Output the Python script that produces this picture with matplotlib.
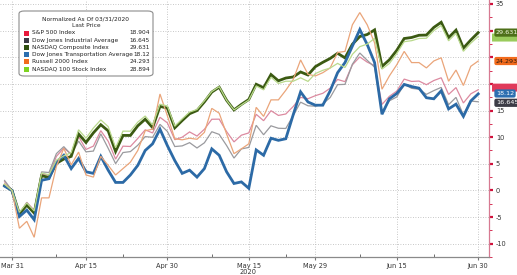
import numpy as np
import pandas as pd
import matplotlib
matplotlib.use("Agg")
import matplotlib.pyplot as plt
import matplotlib.transforms as mtransforms
from matplotlib.patches import FancyBboxPatch, Rectangle

# ---------------- data ----------------
holidays = ["2020-04-10", "2020-05-25"]
dates = [d for d in pd.bdate_range("2020-03-30", "2020-06-30") if d.strftime("%Y-%m-%d") not in holidays]

tick_dates = ["2020-03-31", "2020-04-15", "2020-04-30", "2020-05-15", "2020-05-29", "2020-06-15", "2020-06-30"]
tick_labels = ["Mar 31", "Apr 15", "Apr 30", "May 15", "May 29", "Jun 15", "Jun 30"]
minor_dates = ["2020-04-08", "2020-04-22", "2020-05-08", "2020-05-22", "2020-06-08", "2020-06-22"]
y_ticks = [-10, -5, 0, 5, 10, 15, 20, 25, 30, 35]
y_tick_labels = ["-10", "-5", "0", "5", "10", "15", "", "", "", "35"]  # 20/25/30 hidden under tags

names = ["S&P 500 Index", "Dow Jones Industrial Average", "NASDAQ Composite Index",
         "Dow Jones Transportation Average", "Russell 2000 Index", "NASDAQ 100 Stock Index"]
last_values = ["18.904", "16.645", "29.631", "18.12", "24.293", "28.894"]

spx = [1.63, 0, -4.41, -2.23, -3.71, 3.06, 2.89, 6.39, 7.94, 6.85, 10.12, 7.69, 8.32, 11.22, 9.23,
       5.88, 8.31, 8.25, 9.76, 11.37, 10.79, 13.73, 12.68, 9.52, 9.99, 10.98, 10.21, 11.48, 13.36,
       13.38, 11.05, 9.11, 10.37, 10.80, 14.29, 13.09, 14.97, 14.08, 14.35, 15.75, 17.47, 17.22,
       17.79, 18.23, 19.20, 20.83, 20.42, 23.58, 25.06, 24.09, 23.43, 16.15, 17.67, 18.65, 20.90,
       20.46, 20.53, 19.85, 20.63, 21.15, 18.02, 19.31, 16.42, 18.13, 18.904]
indu = [1.87, 0, -4.44, -2.30, -3.95, 3.48, 3.36, 6.91, 8.22, 6.72, 9.27, 7.24, 7.39, 10.61, 7.91,
        5.03, 7.11, 7.29, 8.48, 10.11, 9.97, 12.40, 11.08, 8.24, 8.36, 8.97, 7.97, 8.94, 11.02,
        10.52, 8.43, 6.07, 7.79, 8.07, 12.23, 10.45, 12.13, 11.67, 11.63, 14.04, 16.57, 15.89,
        15.81, 16.23, 17.45, 19.86, 19.91, 23.70, 25.80, 24.43, 23.14, 14.65, 16.83, 17.55, 19.95,
        19.17, 18.99, 18.04, 18.74, 19.34, 16.10, 17.47, 14.14, 16.78, 16.645]
ccmp = [0.9, 0, -4.41, -2.76, -4.25, 2.77, 2.43, 5.08, 5.89, 6.39, 10.59, 9.0, 10.81, 12.34, 11.18,
        7.31, 10.33, 10.32, 12.13, 13.37, 11.79, 15.78, 15.45, 11.75, 13.12, 14.40, 14.99, 16.62,
        18.46, 19.38, 16.92, 15.11, 16.15, 17.07, 19.93, 19.28, 21.76, 20.58, 21.10, 21.30, 22.24,
        21.67, 23.24, 24.05, 24.78, 25.75, 24.88, 27.45, 28.89, 29.27, 30.14, 23.28, 24.53, 26.31,
        28.52, 28.71, 29.13, 29.17, 30.60, 31.57, 28.69, 30.09, 26.72, 28.24, 29.631]
tran = [0.8, 0, -4.9, -3.7, -5.5, 1.9, 2.2, 5.3, 6.6, 4.1, 6.0, 3.5, 3.2, 6.4, 3.8, 1.5, 1.5, 2.9,
        4.7, 7.5, 8.75, 11.5, 8.4, 5.6, 3.2, 3.8, 2.5, 4.1, 7.8, 6.6, 3.5, 1.3, 1.6, 0.4, 7.6, 6.6,
        9.8, 9.4, 9.7, 14.2, 18.5, 16.6, 16.0, 16.0, 18.7, 22.1, 24.0, 27.1, 30.2, 27.4, 24.0, 14.3,
        17.2, 18.2, 19.9, 19.5, 19.2, 17.4, 17.2, 18.7, 15.3, 16.2, 13.9, 16.8, 18.12]
rty = [1.2, 0, -7.1, -5.8, -8.8, -1.4, -1.4, 4.5, 7.9, 4.8, 7.2, 2.9, 2.5, 6.4, 4.7, 2.9, 4.1, 5.3,
       7.5, 11.2, 11.5, 18.1, 14.0, 9.7, 9.5, 9.8, 9.6, 10.9, 15.4, 14.5, 10.6, 6.9, 7.8, 8.75, 15.6,
       13.9, 17.0, 17.0, 18.8, 20.8, 24.5, 21.8, 21.5, 22.1, 23.0, 25.9, 26.1, 31.1, 33.4, 31.1, 27.7,
       19.0, 21.5, 23.6, 26.1, 24.0, 24.0, 23.0, 24.3, 24.9, 20.5, 22.6, 19.7, 23.3, 24.293]
ndx = [1.2, 0, -4.11, -2.36, -3.85, 3.27, 2.93, 5.68, 6.49, 7.09, 11.39, 9.8, 11.71, 13.24, 11.98,
       8.01, 11.13, 11.12, 12.83, 13.97, 12.29, 16.18, 15.85, 12.05, 13.42, 14.70, 15.19, 16.82,
       18.56, 19.48, 16.92, 15.11, 16.05, 16.97, 19.63, 18.88, 21.26, 20.08, 20.50, 20.50, 21.14,
       20.47, 21.94, 22.55, 22.98, 23.85, 23.08, 25.55, 26.99, 27.47, 28.54, 22.78, 23.83, 25.71,
       27.92, 28.11, 28.53, 28.57, 30.00, 30.97, 28.09, 29.49, 26.12, 27.64, 28.894]

# ---------------- styling ----------------
W, H = 517, 275
fig = plt.figure(figsize=(W / 100, H / 100), dpi=100)
plt.rcParams['font.family'] = ['DejaVu Sans']

ax = fig.add_axes([0, 18 / H, 489 / W, 257 / H])
x = np.arange(len(dates))
date_str = [d.strftime("%Y-%m-%d") for d in dates]
pos = {s: i for i, s in enumerate(date_str)}

line_colors = ['#dc8aa0', '#9a9a9e', '#3b5a12', '#2c6aa6', '#eaa57a', '#b9d98c']
line_widths = [0.9, 0.9, 2.0, 2.0, 0.9, 0.9]
series = [spx, indu, ccmp, tran, rty, ndx]
draw_order = [5, 4, 0, 1, 2, 3]
for k in draw_order:
    ax.plot(x, series[k], color=line_colors[k], lw=line_widths[k], solid_joinstyle='miter', zorder=3 + k * 0.1)

ax.set_xlim(-0.62, 65.46)
ax.set_ylim(-12.1, 35.75)

major_x = [pos[d] for d in tick_dates]
ax.set_xticks(major_x)
ax.set_xticklabels(tick_labels, fontsize=4.8, color='#333333')
ax.set_xticks([pos[d] for d in minor_dates], minor=True)
ax.tick_params(axis='x', which='major', length=2, color='#777777', pad=2)
ax.tick_params(axis='x', which='minor', length=2, direction='in', color='#555555')

ax.yaxis.tick_right()
ax.set_yticks(y_ticks)
ax.set_yticklabels(y_tick_labels, fontsize=4.8, color='#333333')
ax.set_yticks(np.arange(-12.5, 36, 2.5), minor=True)
ax.tick_params(axis='y', which='major', length=3, width=1.6, color='#d0103a', pad=2)
ax.tick_params(axis='y', which='minor', length=2, width=0.6, color='#d0103a')

for v in y_ticks:
    ax.axhline(v, color='#b5b5b5', lw=0.6, ls=(0, (1, 2)), zorder=1)
for p in major_x:
    ax.axvline(p, color='#b5b5b5', lw=0.6, ls=(0, (1, 2)), zorder=1)

for s in ['top', 'left']:
    ax.spines[s].set_visible(False)
ax.spines['right'].set_color('#d77a92')
ax.spines['right'].set_linewidth(0.9)
ax.spines['bottom'].set_color('#8a8a8a')
ax.spines['bottom'].set_linewidth(0.9)

fig.text(248 / W, 1 - 272 / H, "2020", fontsize=4.8, color='#333333', ha='center', va='center')

# right-side value tags
blend = mtransforms.blended_transform_factory(ax.transAxes, ax.transData)

def hidden_tag(yv, face):
    # a tag that sits mostly behind another one: only its coloured edge shows
    p = FancyBboxPatch((1.0 + 3 / 489, yv - 0.75), 25 / 489, 1.5,
                       boxstyle='round,pad=0,rounding_size=0.004', transform=blend,
                       fc=face, ec='none', clip_on=False, zorder=10)
    ax.add_patch(p)

def tag(val, yv, face, tcolor, z):
    ax.annotate(val, xy=(1.0, yv), xycoords=('axes fraction', 'data'),
                xytext=(5, 0), textcoords='offset points', fontsize=4.6, color=tcolor,
                ha='left', va='center', annotation_clip=False, zorder=z,
                bbox=dict(boxstyle='round,pad=0.25,rounding_size=0.3', fc=face, ec='none'))

hidden_tag(28.7, '#9acb5c')
hidden_tag(19.3, '#e03a5a')
tag(last_values[2], 29.631, '#4e7019', '#f3f8e0', 11)
tag(last_values[4], 24.293, '#f26b1d', '#2a1a10', 11)
tag(last_values[1], 16.45, '#3c3c46', '#ffffff', 11)
tag(last_values[3], 18.2, '#2c6fb0', '#ffffff', 12)

# legend box
def fx(px):
    return px / W
def fy(py):
    return 1 - py / H

leg = FancyBboxPatch((fx(19), fy(76)), fx(153) - fx(19), fy(11) - fy(76),
                     boxstyle='round,pad=0,rounding_size=0.01', transform=fig.transFigure,
                     fc='white', ec='#8c8c8c', lw=0.8, zorder=20)
fig.patches.append(leg)
fig.text(fx(86), fy(19), "Normalized As Of 03/31/2020", fontsize=4.2, color='#222222',
         ha='center', va='center', zorder=21)
fig.text(fx(86), fy(25.5), "Last Price", fontsize=4.2, color='#222222', ha='center', va='center', zorder=21)
square_colors = ['#e8193c', '#3c3c46', '#2f4f0f', '#2c6fb0', '#f26b1d', '#7ed321']
for k in range(6):
    yy = 33 + 7.2 * k
    fig.patches.append(Rectangle((fx(24), fy(yy + 2.5)), fx(5), fy(yy - 2.5) - fy(yy + 2.5),
                                 transform=fig.transFigure, fc=square_colors[k], ec='none', zorder=21))
    fig.text(fx(32), fy(yy), names[k], fontsize=4.2, color='#222222', ha='left', va='center', zorder=21)
    fig.text(fx(150), fy(yy), last_values[k], fontsize=4.2, color='#222222', ha='right', va='center', zorder=21)

fig.savefig("out.png", dpi=100, facecolor='white')
